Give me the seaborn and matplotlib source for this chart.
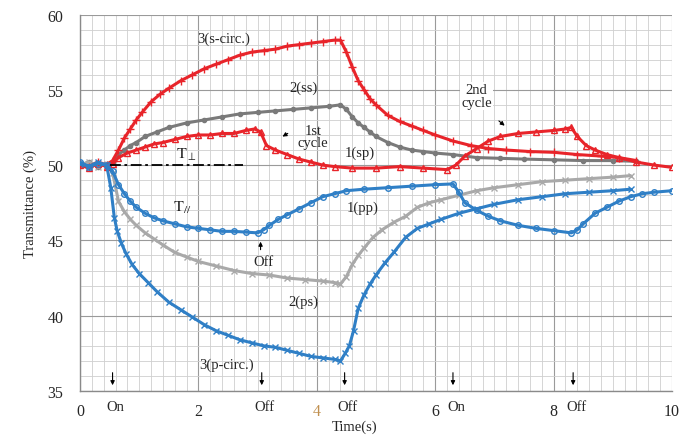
import numpy as np
import pandas as pd
import matplotlib
matplotlib.use("Agg")
import matplotlib.pyplot as plt
import seaborn as sns
from matplotlib.ticker import MultipleLocator

# 3(s-circ.) red +
t_sc = [0, 0.15, 0.3, 0.45, 0.55, 0.65, 0.75, 0.85, 0.95, 1.05, 1.2, 1.35, 1.5, 1.7, 1.9, 2.1, 2.3, 2.5,
        2.7, 2.9, 3.1, 3.3, 3.5, 3.7, 3.9, 4.1, 4.3, 4.4, 4.5, 4.6, 4.7, 4.8, 4.9, 5.0, 5.2, 5.4, 5.6, 5.8,
        6.0, 6.3, 6.6, 6.9, 7.2, 7.6, 8.0, 8.4, 8.8, 9.1, 9.4]
v_sc = [50.1, 49.9, 50.2, 50.0, 50.3, 51.0, 51.8, 52.4, 53.0, 53.5, 54.2, 54.7, 55.1, 55.6, 56.0, 56.4, 56.7, 57.0,
        57.3, 57.5, 57.6, 57.7, 57.9, 58.0, 58.1, 58.2, 58.3, 58.3, 57.5, 56.5, 55.6, 55.0, 54.4, 54.0, 53.3, 52.9, 52.6, 52.3,
        52.0, 51.6, 51.3, 51.1, 51.0, 50.9, 50.85, 50.7, 50.6, 50.5, 50.3]

# 2(ss) dark gray
t_ss = [0, 0.15, 0.3, 0.45, 0.55, 0.65, 0.75, 0.85, 0.95, 1.1, 1.3, 1.5, 1.8, 2.1, 2.4, 2.7, 3.0, 3.3, 3.6, 3.9,
        4.2, 4.4, 4.5, 4.6, 4.7, 4.8, 4.9, 5.0, 5.2, 5.4, 5.6, 5.8, 6.0, 6.3, 6.7, 7.1, 7.5, 8.0, 8.5, 9.0, 9.4]
v_ss = [50.0, 50.2, 49.9, 50.1, 50.2, 50.7, 51.0, 51.3, 51.5, 51.9, 52.2, 52.5, 52.8, 53.0, 53.2, 53.4, 53.5, 53.6, 53.7, 53.8,
        53.9, 54.0, 53.7, 53.2, 52.8, 52.5, 52.2, 51.9, 51.5, 51.2, 51.0, 50.9, 50.8, 50.7, 50.5, 50.45, 50.4, 50.35, 50.3, 50.3, 50.25]

# 1(sp) red triangles
t_sp = [0, 0.15, 0.3, 0.45, 0.55, 0.65, 0.8, 0.95, 1.1, 1.25, 1.4, 1.6, 1.8, 2.0, 2.2, 2.4, 2.6, 2.8, 2.95, 3.05,
        3.15, 3.3, 3.5, 3.7, 3.9, 4.1, 4.3, 4.6, 5.0, 5.4, 5.8, 6.2, 6.35, 6.5, 6.7, 6.9, 7.1, 7.4, 7.7, 8.0,
        8.2, 8.3, 8.4, 8.55, 8.7, 8.9, 9.1, 9.4, 9.7, 10.0]
v_sp = [50.0, 49.8, 50.1, 49.9, 50.1, 50.5, 50.8, 51.0, 51.2, 51.4, 51.5, 51.7, 51.9, 52.0, 52.0, 52.1, 52.1, 52.3, 52.4, 52.2,
        51.3, 51.0, 50.7, 50.4, 50.2, 50.0, 49.9, 49.8, 49.8, 49.9, 49.8, 49.7, 50.0, 50.6, 51.1, 51.6, 51.9, 52.1, 52.2, 52.3,
        52.4, 52.5, 51.9, 51.3, 51.0, 50.7, 50.5, 50.2, 50.0, 49.85]

# 1(pp) blue circles (T//)
t_pp = [0, 0.15, 0.3, 0.45, 0.55, 0.65, 0.75, 0.85, 0.95, 1.1, 1.25, 1.4, 1.6, 1.8, 2.0, 2.2, 2.4, 2.6, 2.8, 3.0,
        3.1, 3.2, 3.35, 3.5, 3.7, 3.9, 4.1, 4.3, 4.5, 4.8, 5.2, 5.6, 6.0, 6.3, 6.4, 6.5, 6.7, 6.9, 7.1, 7.4,
        7.7, 8.0, 8.3, 8.4, 8.5, 8.7, 8.9, 9.1, 9.3, 9.5, 9.7, 10.0]
v_pp = [50.2, 49.9, 50.1, 50.0, 49.6, 48.7, 48.1, 47.6, 47.2, 46.8, 46.5, 46.3, 46.1, 45.9, 45.8, 45.7, 45.6, 45.6, 45.55, 45.5,
        45.7, 46.0, 46.4, 46.7, 47.1, 47.5, 47.9, 48.1, 48.3, 48.4, 48.5, 48.6, 48.7, 48.75, 48.2, 47.5, 47.0, 46.6, 46.3, 46.0,
        45.8, 45.65, 45.5, 45.7, 46.1, 46.8, 47.2, 47.6, 47.9, 48.1, 48.2, 48.3]

# 2(ps) light gray x
t_ps = [0, 0.15, 0.3, 0.45, 0.55, 0.65, 0.75, 0.85, 0.95, 1.1, 1.25, 1.4, 1.6, 1.8, 2.0, 2.3, 2.6, 2.9, 3.2, 3.5,
        3.8, 4.1, 4.3, 4.4, 4.5, 4.6, 4.7, 4.8, 4.95, 5.1, 5.3, 5.5, 5.7, 5.9, 6.1, 6.4, 6.7, 7.0, 7.4, 7.8,
        8.2, 8.6, 9.0, 9.3]
v_ps = [50.0, 50.2, 49.9, 50.1, 49.5, 47.6, 46.9, 46.4, 46.0, 45.5, 45.1, 44.7, 44.2, 43.9, 43.6, 43.3, 43.0, 42.8, 42.7, 42.5,
        42.4, 42.3, 42.2, 42.1, 42.6, 43.4, 44.0, 44.5, 45.2, 45.7, 46.2, 46.6, 47.2, 47.5, 47.7, 48.0, 48.3, 48.5, 48.7, 48.9,
        49.0, 49.1, 49.2, 49.3]

# 3(p-circ.) blue x
t_pc = [0, 0.15, 0.3, 0.45, 0.52, 0.58, 0.63, 0.7, 0.78, 0.88, 1.0, 1.15, 1.3, 1.5, 1.7, 1.9, 2.1, 2.3, 2.5, 2.7,
        2.9, 3.1, 3.3, 3.5, 3.7, 3.9, 4.1, 4.3, 4.4, 4.48, 4.55, 4.62, 4.7, 4.8, 4.9, 5.0, 5.15, 5.3, 5.5, 5.7,
        5.9, 6.1, 6.4, 6.7, 7.0, 7.4, 7.8, 8.2, 8.6, 9.0, 9.3]
v_pc = [50.1, 49.9, 50.2, 50.0, 48.5, 46.5, 45.6, 44.8, 44.1, 43.4, 42.8, 42.2, 41.6, 40.9, 40.4, 39.9, 39.4, 39.0, 38.7, 38.4,
        38.2, 38.0, 37.9, 37.7, 37.5, 37.3, 37.2, 37.1, 37.0, 37.5, 38.0, 39.0, 40.5, 41.4, 42.1, 42.7, 43.5, 44.2, 45.2, 45.8,
        46.1, 46.4, 46.8, 47.1, 47.4, 47.7, 47.9, 48.1, 48.2, 48.3, 48.4]

# T_perp reference level
t_perp = [0.5, 2.75]
v_perp = [50.0, 50.0]

# light on/off events
event_t = [0.55, 3.07, 4.47, 6.3, 8.33]
event_lbl = ["On", "Off", "Off", "On", "Off"]

red = "#e8242a"
blue = "#2f7fc6"
dgray = "#7a7a7a"
lgray = "#a9a9a9"

sns.set_style("white")
plt.rcParams["font.family"] = ["Liberation Serif", "DejaVu Serif"]
plt.rcParams["mathtext.fontset"] = "stix"

fig = plt.figure(figsize=(6.92, 4.39), dpi=100)
ax = fig.add_axes([80 / 692, 47 / 439, 592 / 692, 376.5 / 439])

series = [
    (t_ss, v_ss, dgray, "o", "full", 3.0),
    (t_ps, v_ps, lgray, "x", "full", 4.0),
    (t_sc, v_sc, red, "+", "full", 6.0),
    (t_sp, v_sp, red, "^", "none", 4.0),
    (t_pc, v_pc, blue, "x", "full", 4.0),
    (t_pp, v_pp, blue, "o", "none", 4.0),
]
for tt, vv, c, m, fill, ms in series:
    kw = dict(markerfacecolor="none") if fill == "none" else {}
    sns.lineplot(x=tt, y=vv, ax=ax, color=c, marker=m, markersize=ms, markeredgecolor=c,
                 markeredgewidth=1.0, linewidth=2.2, zorder=3, **kw)

sns.lineplot(x=t_perp, y=v_perp, ax=ax, color="black", linestyle=(0, (6, 2, 1.5, 2)), linewidth=1.3, zorder=4)

ax.set_xlim(0, 10)
ax.set_ylim(35, 60)
ax.xaxis.set_major_locator(MultipleLocator(2))
ax.xaxis.set_minor_locator(MultipleLocator(0.2))
ax.yaxis.set_major_locator(MultipleLocator(5))
ax.yaxis.set_minor_locator(MultipleLocator(1))
ax.grid(which="major", color="#9a9a9a", linewidth=0.8)
ax.grid(which="minor", color="#cfcfcf", linewidth=0.6)
ax.set_axisbelow(True)
for s in ["top", "right"]:
    ax.spines[s].set_visible(False)
for s in ["left", "bottom"]:
    ax.spines[s].set_color("#8a8a8a")
    ax.spines[s].set_linewidth(1.0)
ax.tick_params(which="major", direction="out", length=4, color="#8a8a8a", labelsize=11.5)
ax.tick_params(axis="x", which="major", pad=5)
ax.tick_params(axis="y", which="major", pad=8)
ax.tick_params(which="minor", direction="out", length=2.5, color="#8a8a8a")
ax.tick_params(axis="y", which="minor", length=0)
for lbl in ax.get_xticklabels():
    if lbl.get_text() == "4":
        lbl.set_color("#c09050")

ax.set_ylabel("Transmittance (%)", fontsize=10.5)
ax.yaxis.set_label_coords(-0.072, 0.5)
ax.set_xlabel("Time(s)", fontsize=10.5)
ax.xaxis.set_label_coords((355 - 80) / 592, -0.075)

fs = 10.5
ax.text(2.42, 58.4, "3(s-circ.)", fontsize=fs, ha="center", va="center")
ax.text(3.77, 55.2, "2(ss)", fontsize=fs, ha="center", va="center")
ax.text(3.94, 51.9, "1st\ncycle", fontsize=fs, ha="center", va="center", linespacing=0.95)
ax.text(4.73, 50.87, "1(sp)", fontsize=fs, ha="center", va="center")
ax.text(6.7, 54.6, "2nd\ncycle", fontsize=fs, ha="center", va="center", linespacing=0.95,
        bbox=dict(facecolor="white", edgecolor="none", pad=1))
ax.text(1.8, 50.75, r"$\mathrm{T}_{\perp}$", fontsize=fs + 1, ha="center", va="center")
ax.text(1.72, 47.2, r"$\mathrm{T}_{//}$", fontsize=fs + 1, ha="center", va="center")
ax.text(4.78, 47.2, "1(pp)", fontsize=fs, ha="center", va="center")
ax.text(3.77, 40.95, "2(ps)", fontsize=fs, ha="center", va="center")
ax.text(2.48, 36.8, "3(p-circ.)", fontsize=fs, ha="center", va="center")
ax.text(3.1, 43.6, "Off", fontsize=fs, ha="center", va="center")

arrow = dict(arrowstyle="-|>", color="black", lw=0.8, mutation_scale=6)
ax.annotate("", xy=(3.38, 51.8), xytext=(3.55, 52.2), arrowprops=arrow)
ax.annotate("", xy=(7.21, 52.5), xytext=(7.04, 53.05), arrowprops=arrow)
ax.annotate("", xy=(3.05, 45.1), xytext=(3.05, 44.2), arrowprops=arrow)

for et, el in zip(event_t, event_lbl):
    ax.annotate("", xy=(et, 35.2), xytext=(et, 36.4), arrowprops=arrow)
    ax.text(et + 0.05, 34.0, el, fontsize=fs, ha="center", va="center", clip_on=False)

fig.savefig("out.png", dpi=100)
